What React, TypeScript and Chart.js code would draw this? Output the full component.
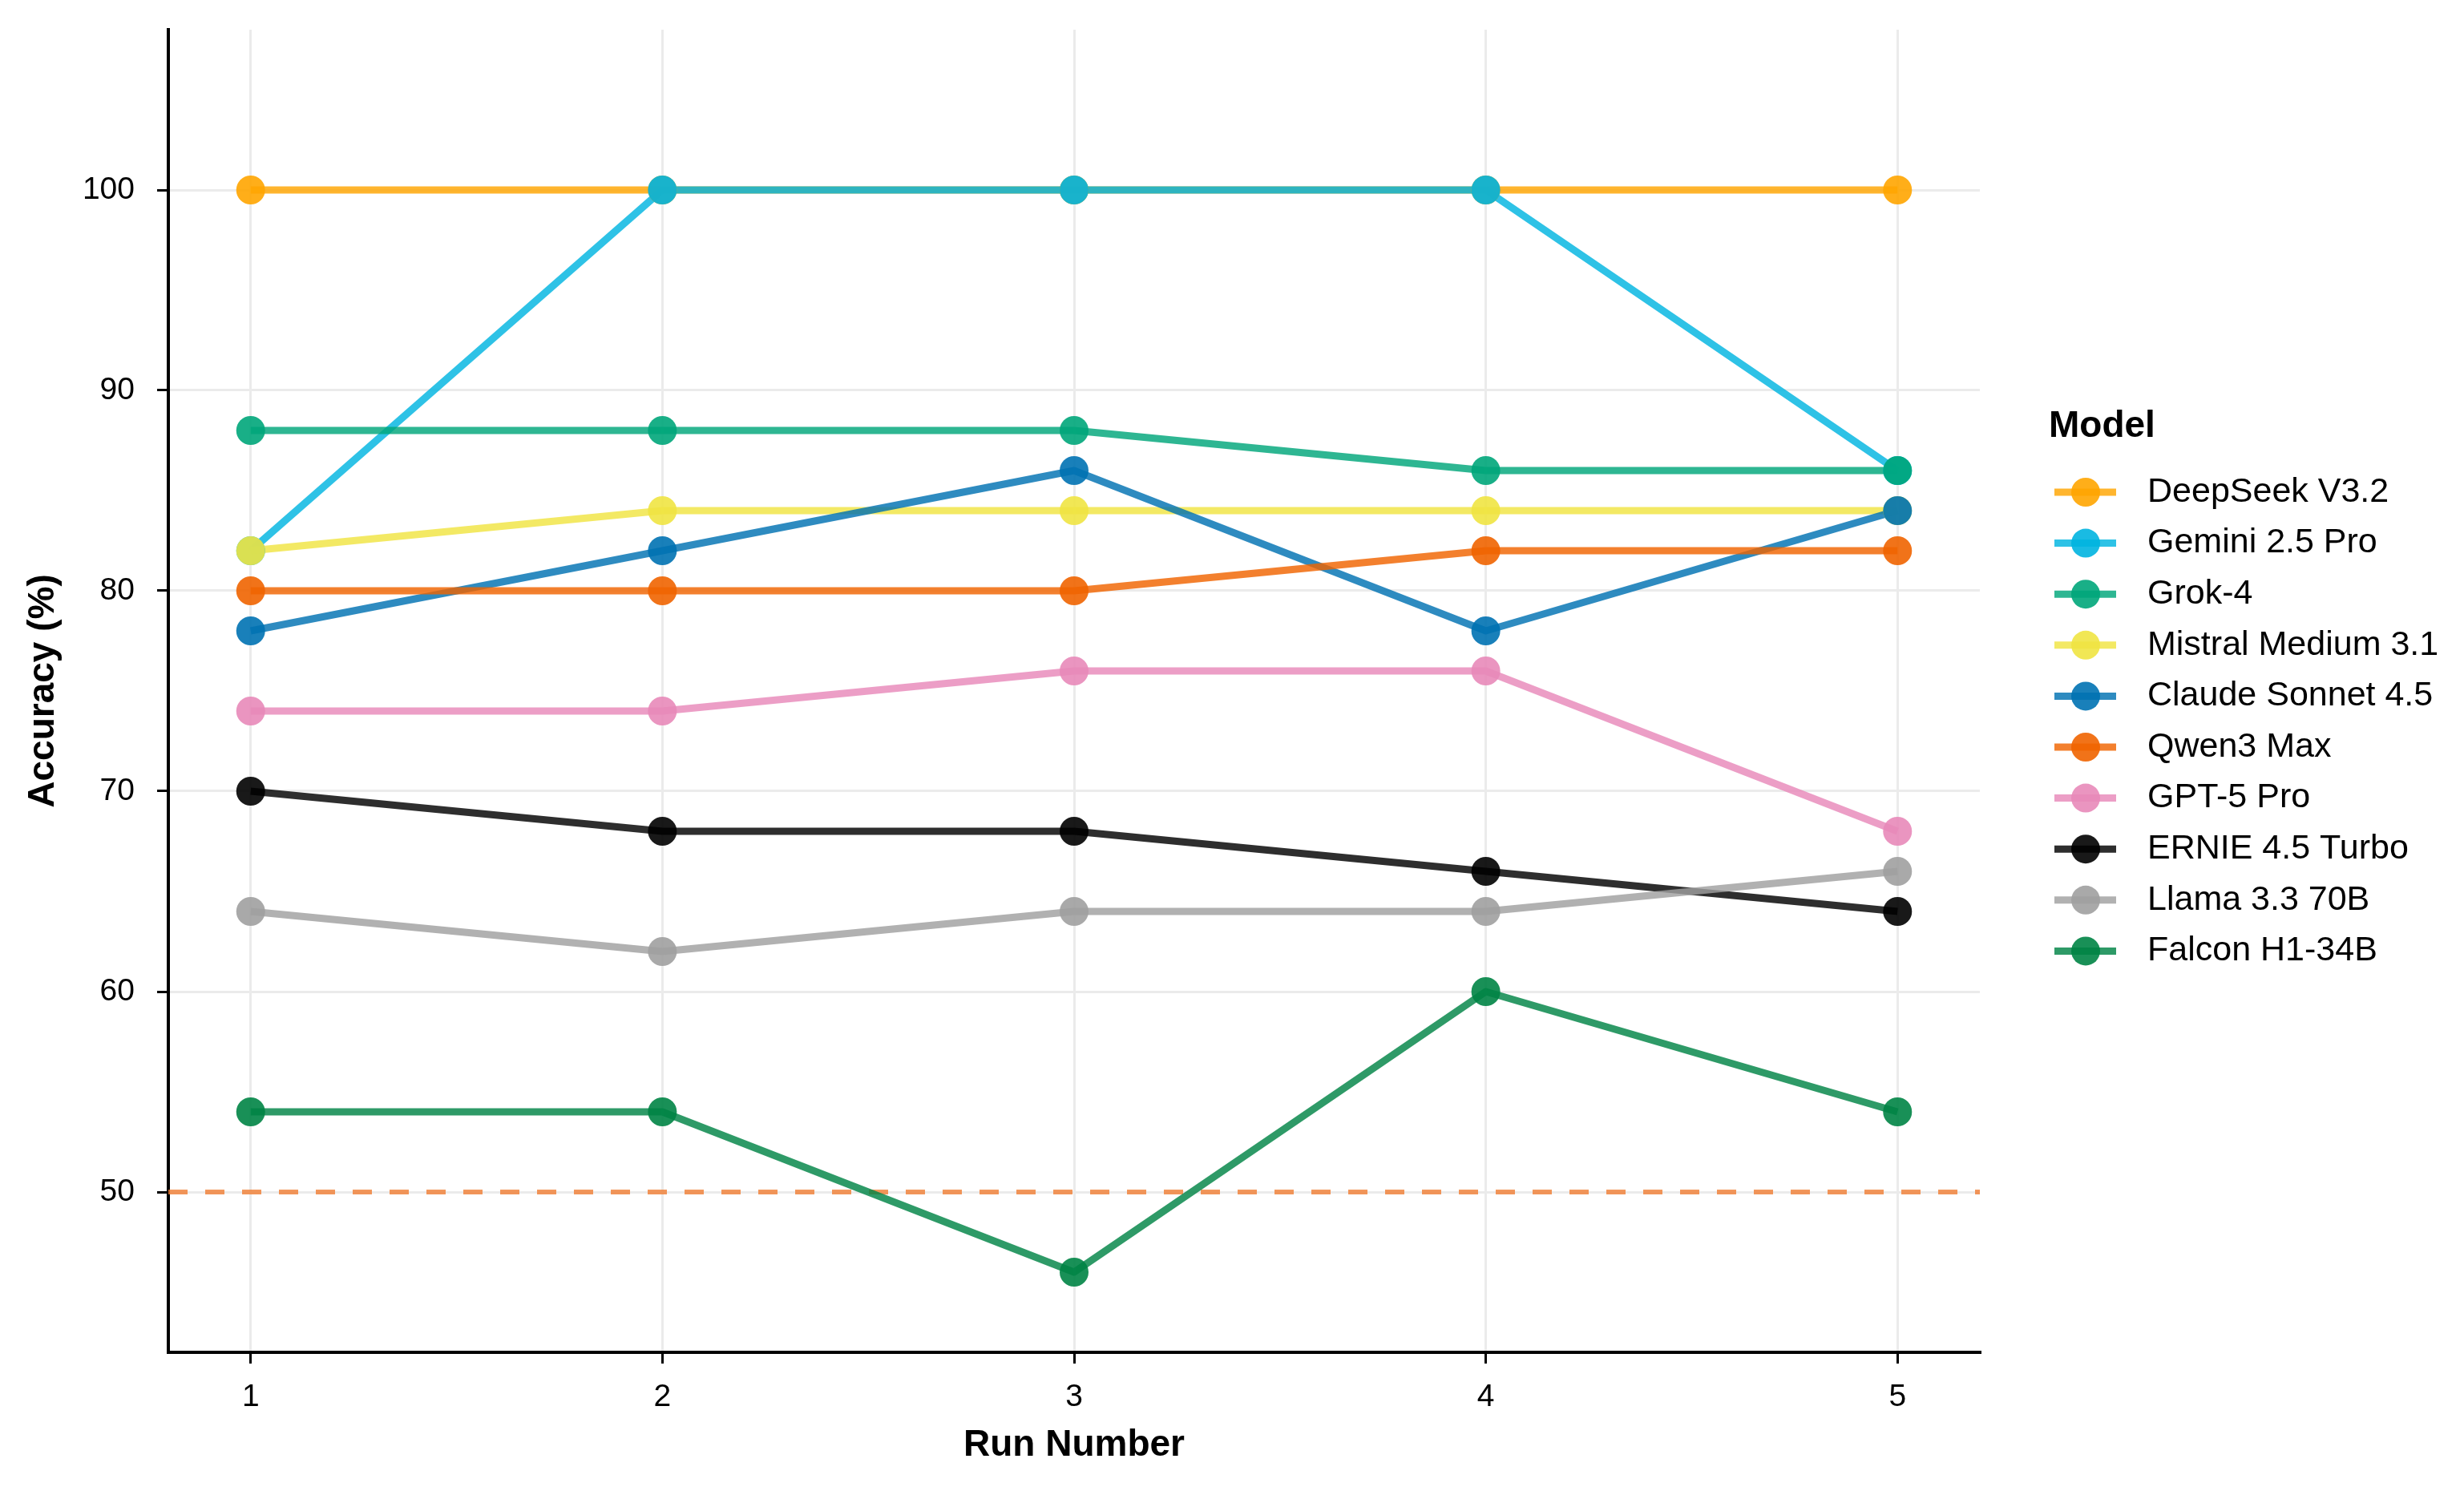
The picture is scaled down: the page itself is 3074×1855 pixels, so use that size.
import React, { useEffect, useRef } from "react";
import { Chart, registerables } from "chart.js";

Chart.register(...registerables);

const FONT = "'Liberation Sans', Arial, Helvetica, sans-serif";

const RUNS = [1, 2, 3, 4, 5];
const Y_TICKS = [50, 60, 70, 80, 90, 100];
const THRESHOLD = 50;

const MODELS = [
  "DeepSeek V3.2",
  "Gemini 2.5 Pro",
  "Grok-4",
  "Mistral Medium 3.1",
  "Claude Sonnet 4.5",
  "Qwen3 Max",
  "GPT-5 Pro",
  "ERNIE 4.5 Turbo",
  "Llama 3.3 70B",
  "Falcon H1-34B",
];

const COLORS = [
  "#FFA500",
  "#00B4E0",
  "#00A67A",
  "#F0E442",
  "#0072B2",
  "#F06400",
  "#E889B9",
  "#000000",
  "#A0A0A0",
  "#008445",
];

const DEEPSEEK = [100, 100, 100, 100, 100];
const GEMINI = [82, 100, 100, 100, 86];
const GROK = [88, 88, 88, 86, 86];
const MISTRAL = [82, 84, 84, 84, 84];
const CLAUDE = [78, 82, 86, 78, 84];
const QWEN = [80, 80, 80, 82, 82];
const GPT5 = [74, 74, 76, 76, 68];
const ERNIE = [70, 68, 68, 66, 64];
const LLAMA = [64, 62, 64, 64, 66];
const FALCON = [54, 54, 46, 60, 54];

const SERIES = [DEEPSEEK, GEMINI, GROK, MISTRAL, CLAUDE, QWEN, GPT5, ERNIE, LLAMA, FALCON];

const rgba = (hex: string, a: number) => {
  const n = parseInt(hex.slice(1), 16);
  return `rgba(${(n >> 16) & 255},${(n >> 8) & 255},${n & 255},${a})`;
};

// dashed 50% reference line, under the series
const thresholdPlugin = {
  id: "threshold",
  beforeDatasetsDraw(chart: any) {
    const { ctx, chartArea, scales } = chart;
    const y = scales.y.getPixelForValue(THRESHOLD);
    ctx.save();
    ctx.setLineDash([24, 22]);
    ctx.lineWidth = 6;
    ctx.strokeStyle = "rgba(240,125,50,0.8)";
    ctx.beginPath();
    ctx.moveTo(chartArea.left, y);
    ctx.lineTo(chartArea.right, y);
    ctx.stroke();
    ctx.restore();
  },
};

// ggplot-style legend on the right
const legendPlugin = {
  id: "modelLegend",
  afterDraw(chart: any) {
    const ctx = chart.ctx;
    ctx.save();
    ctx.textAlign = "left";
    ctx.textBaseline = "middle";
    ctx.fillStyle = "#000";
    ctx.font = `bold 46px ${FONT}`;
    ctx.fillText("Model", 2556, 532);
    ctx.font = `43px ${FONT}`;
    MODELS.forEach((name, i) => {
      const y = 614 + i * 63.6;
      ctx.strokeStyle = rgba(COLORS[i], 0.82);
      ctx.lineWidth = 9;
      ctx.beginPath();
      ctx.moveTo(2563, y);
      ctx.lineTo(2640, y);
      ctx.stroke();
      ctx.fillStyle = rgba(COLORS[i], 0.9);
      ctx.beginPath();
      ctx.arc(2602, y, 18, 0, Math.PI * 2);
      ctx.fill();
      ctx.fillStyle = "#000";
      ctx.fillText(name, 2679, y);
    });
    ctx.restore();
  },
};

const AccuracyChart: React.FC = () => {
  const canvasRef = useRef<HTMLCanvasElement | null>(null);

  useEffect(() => {
    if (!canvasRef.current) return;

    const lineSets = SERIES.map((data, i) => ({
      label: MODELS[i],
      data: data.map((v, j) => ({ x: RUNS[j], y: v })),
      borderColor: rgba(COLORS[i], 0.82),
      borderWidth: 9,
      borderJoinStyle: "round" as const,
      pointRadius: 0,
      fill: false,
      tension: 0,
      order: 100 - i,
    }));

    const pointSets = SERIES.map((data, i) => ({
      label: MODELS[i] + " points",
      data: data.map((v, j) => ({ x: RUNS[j], y: v })),
      showLine: false,
      pointRadius: 18,
      pointBorderWidth: 0,
      pointBackgroundColor: rgba(COLORS[i], 0.9),
      pointBorderColor: "rgba(0,0,0,0)",
      order: 50 - i,
    }));

    const chart = new Chart(canvasRef.current, {
      type: "line",
      data: { datasets: [...lineSets, ...pointSets] as any },
      plugins: [thresholdPlugin, legendPlugin],
      options: {
        animation: false,
        responsive: true,
        maintainAspectRatio: false,
        events: [],
        layout: { padding: { left: 0, top: 37, right: 604, bottom: 0 } },
        plugins: { legend: { display: false }, tooltip: { enabled: false } },
        scales: {
          x: {
            type: "linear",
            min: 0.8,
            max: 5.2,
            afterBuildTicks: (scale: any) => {
              scale.ticks = RUNS.map((v) => ({ value: v }));
            },
            afterFit: (scale: any) => {
              scale.height = 168;
              scale.paddingLeft = 0;
              scale.paddingRight = 0;
            },
            grid: { color: "#EBEBEB", lineWidth: 3, tickLength: 14, tickColor: "#000", tickWidth: 3 },
            border: { display: true, color: "#000", width: 4 },
            ticks: {
              color: "#000",
              padding: 19,
              font: { family: FONT, size: 39 },
              callback: (v: any) => String(v),
            },
            title: {
              display: true,
              text: "Run Number",
              color: "#000",
              padding: { top: 0, bottom: 24 },
              font: { family: FONT, size: 46, weight: "bold" },
            },
          },
          y: {
            type: "linear",
            min: 42,
            max: 108,
            afterBuildTicks: (scale: any) => {
              scale.ticks = Y_TICKS.map((v) => ({ value: v }));
            },
            afterFit: (scale: any) => {
              scale.width = 210;
              scale.paddingTop = 0;
              scale.paddingBottom = 0;
            },
            grid: { color: "#EBEBEB", lineWidth: 3, tickLength: 14, tickColor: "#000", tickWidth: 3 },
            border: { display: true, color: "#000", width: 4 },
            ticks: {
              color: "#000",
              padding: 28,
              font: { family: FONT, size: 39 },
              callback: (v: any) => String(v),
            },
            title: {
              display: true,
              text: "Accuracy (%)",
              color: "#000",
              padding: { top: 27, bottom: 0 },
              font: { family: FONT, size: 46, weight: "bold" },
            },
          },
        },
      } as any,
    });

    return () => chart.destroy();
  }, []);

  return (
    <div style={{ position: "fixed", left: 0, top: 0, width: "3074px", height: "1855px", background: "#fff" }}>
      <canvas ref={canvasRef}></canvas>
    </div>
  );
};

export default function App() {
  return <AccuracyChart />;
}
